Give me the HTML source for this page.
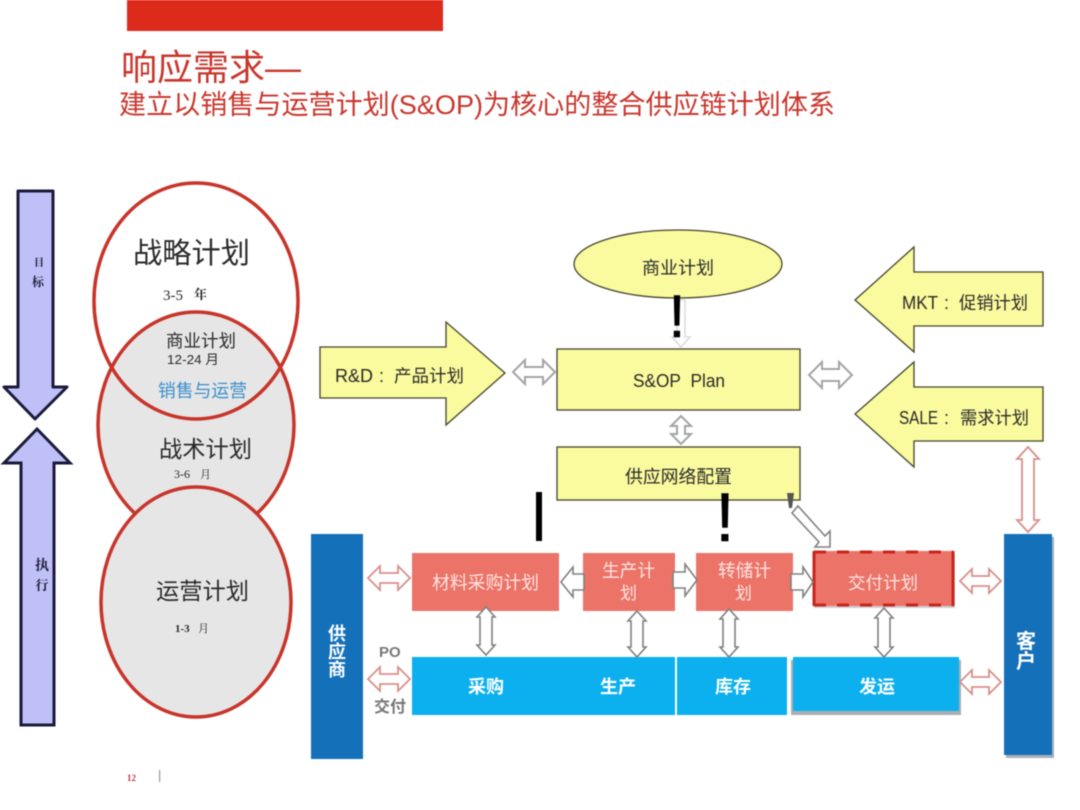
<!DOCTYPE html>
<html>
<head>
<meta charset="utf-8">
<style>
html,body{margin:0;padding:0;background:#fff;}
svg{display:block;filter:blur(0.4px);}
text{font-family:"Liberation Sans","Noto Sans CJK SC",sans-serif;fill:#2a2a2a;}
.y{fill:#fafa9e;stroke:#45452e;stroke-width:1.3;}
.g{fill:#fff;stroke:#a4a4a4;stroke-width:2;}
.d{fill:#fff;stroke:#808080;stroke-width:1.6;}
.r{fill:#fff;stroke:#d98f8a;stroke-width:1.8;}
.w{fill:#fbe6e2;}
.b{fill:#fff;font-weight:bold;}
.s{font-family:"Liberation Serif","Noto Serif CJK SC",serif;}
</style>
</head>
<body>
<svg width="1080" height="810" viewBox="0 0 1080 810" xmlns="http://www.w3.org/2000/svg">
<rect width="1080" height="810" fill="#fff"/>
<rect x="127" y="0" width="316" height="31" fill="#dc2a1b"/>
<text x="121" y="80" font-size="36" textLength="180" lengthAdjust="spacingAndGlyphs" style="fill:#c8362c">响应需求—</text>
<text x="119" y="114" font-size="27" textLength="716" lengthAdjust="spacingAndGlyphs" style="fill:#c8362c">建立以销售与运营计划(S&amp;OP)为核心的整合供应链计划体系</text>

<!-- left arrows -->
<polygon points="18,191 53,191 53,387 67,387 35,419 4,387 18,387" fill="#c0c0f8" stroke="#1a1a3a" stroke-width="3" stroke-linejoin="round"/>
<polygon points="37,429 70,463 54,463 54,725 21,725 21,463 4,463" fill="#c0c0f8" stroke="#1a1a3a" stroke-width="3" stroke-linejoin="miter"/>
<text class="s" x="39" y="266" font-size="10" font-weight="bold" text-anchor="middle" style="fill:#1a1a3a">目</text>
<text class="s" x="38" y="286" font-size="12" font-weight="bold" text-anchor="middle" style="fill:#1a1a3a">标</text>
<text class="s" x="42" y="570" font-size="14" font-weight="bold" text-anchor="middle" style="fill:#1a1a3a">执</text>
<text class="s" x="42" y="590" font-size="13" font-weight="bold" text-anchor="middle" style="fill:#1a1a3a">行</text>

<!-- ellipses -->
<ellipse cx="196" cy="301" rx="102" ry="118" fill="#fff"/>
<ellipse cx="196" cy="425" rx="98" ry="113" fill="#e6e6e6" stroke="#c8342a" stroke-width="3.5"/>
<ellipse cx="196" cy="301" rx="102" ry="118" fill="none" stroke="#c8342a" stroke-width="3.5"/>
<ellipse cx="196" cy="602" rx="95" ry="115" fill="#e6e6e6" stroke="#c8342a" stroke-width="3.5"/>

<text x="133" y="263" font-size="29" textLength="117" lengthAdjust="spacingAndGlyphs">战略计划</text>
<text class="s" x="163" y="300" font-size="15">3-5</text>
<text class="s" x="194" y="299" font-size="13" font-weight="bold">年</text>
<text x="166" y="347" font-size="17.5" textLength="70" lengthAdjust="spacingAndGlyphs">商业计划</text>
<text x="167" y="364" font-size="13" textLength="52" lengthAdjust="spacingAndGlyphs">12-24 月</text>
<text x="158" y="397" font-size="18" textLength="89" lengthAdjust="spacingAndGlyphs" style="fill:#3b8ecb">销售与运营</text>
<text x="159" y="457" font-size="23" textLength="93" lengthAdjust="spacingAndGlyphs">战术计划</text>
<text class="s" x="174" y="478" font-size="12">3-6</text>
<text class="s" x="200" y="478" font-size="11">月</text>
<text x="156" y="599" font-size="23" textLength="93" lengthAdjust="spacingAndGlyphs">运营计划</text>
<text class="s" x="175" y="632" font-size="11" font-weight="bold">1-3</text>
<text class="s" x="198" y="632" font-size="11">月</text>

<text class="s" x="127" y="781" font-size="9" font-weight="bold" style="fill:#b8384a">12</text>
<rect x="159" y="770" width="1.2" height="12" fill="#999"/>

<!-- yellow -->
<polygon class="y" points="320,347 446,347 446,322 505,373 446,425 446,398 320,398"/>
<ellipse class="y" cx="678" cy="264" rx="104" ry="34"/>
<rect class="y" x="557" y="349" width="243" height="61"/>
<rect class="y" x="557" y="447" width="243" height="53"/>
<polygon class="y" points="855,300 914,247 914,272 1043,272 1043,326 914,326 914,352"/>
<polygon class="y" points="855,414 914,362 914,387 1043,387 1043,441 914,441 914,467"/>

<text x="335" y="382" font-size="18" textLength="38" lengthAdjust="spacingAndGlyphs">R&amp;D</text>
<text x="379" y="382" font-size="18">:</text>
<text x="394" y="382" font-size="17.5" textLength="70" lengthAdjust="spacingAndGlyphs">产品计划</text>
<text x="642" y="274" font-size="17.5" textLength="72" lengthAdjust="spacingAndGlyphs">商业计划</text>
<text x="633" y="387" font-size="18" textLength="92" lengthAdjust="spacingAndGlyphs">S&amp;OP&#160;&#160;Plan</text>
<text x="625" y="483" font-size="18" textLength="107" lengthAdjust="spacingAndGlyphs">供应网络配置</text>
<text x="902" y="309" font-size="18" textLength="36" lengthAdjust="spacingAndGlyphs">MKT</text>
<text x="944" y="309" font-size="18">:</text>
<text x="959" y="309" font-size="17.5" textLength="69" lengthAdjust="spacingAndGlyphs">促销计划</text>
<text x="899" y="424" font-size="18" textLength="39" lengthAdjust="spacingAndGlyphs">SALE</text>
<text x="944" y="424" font-size="18">:</text>
<text x="960" y="424" font-size="17.5" textLength="69" lengthAdjust="spacingAndGlyphs">需求计划</text>

<!-- grey arrows upper -->
<polygon points="681,347 690,337 685,337 685,300 677,300 677,337 672,337" fill="#fff" stroke="#ddd" stroke-width="1.6"/>
<polygon class="g" points="513,372 525,360 525,367 543,367 543,360 555,372 543,384 543,377 525,377 525,384"/>
<polygon class="g" points="809,375 822,362 822,369 839,369 839,362 852,375 839,388 839,381 822,381 822,388"/>
<polygon class="g" points="681,416 691,426 685,426 685,434 691,434 681,444 671,434 677,434 677,426 671,426"/>

<!-- black marks -->
<text x="677" y="337" font-size="60" text-anchor="middle" stroke="#000" stroke-width="0.6" style="fill:#000">!</text>
<rect x="536" y="492" width="6" height="49" fill="#000"/>
<text x="725" y="541" font-size="69" text-anchor="middle" stroke="#000" stroke-width="0.6" style="fill:#000">!</text>
<polygon points="787,493 794,493 792,508 789,508" fill="#555"/>

<polygon class="d" points="830,547 815,547 819,542 792,513 798,506 825,536 830,531"/>

<!-- blue blocks -->
<rect x="311" y="534" width="52" height="225" fill="#1570ba"/>
<rect x="1006" y="537" width="48" height="221" fill="#a9b0b8"/>
<rect x="1004" y="534" width="48" height="221" fill="#1570ba"/>
<rect x="412" y="657" width="263" height="58" fill="#0cb0ee"/>
<rect x="677" y="657" width="110" height="58" fill="#0cb0ee"/>
<rect x="791" y="660" width="170" height="55" fill="#aaaeb2"/>
<rect x="793" y="657" width="166" height="54" fill="#0cb0ee"/>

<text class="b" x="337" y="640" font-size="18" text-anchor="middle">供</text>
<text class="b" x="337" y="658" font-size="18" text-anchor="middle">应</text>
<text class="b" x="337" y="676" font-size="18" text-anchor="middle">商</text>
<text class="b" x="1026" y="648" font-size="20" text-anchor="middle">客</text>
<text class="b" x="1026" y="668" font-size="20" text-anchor="middle">户</text>
<text class="b" x="468" y="693" font-size="18">采购</text>
<text class="b" x="600" y="693" font-size="18">生产</text>
<text class="b" x="715" y="693" font-size="18">库存</text>
<text class="b" x="859" y="693" font-size="18">发运</text>
<text x="379" y="657" font-size="15" font-weight="bold" style="fill:#777">PO</text>
<text x="374" y="712" font-size="16" font-weight="bold" style="fill:#777">交付</text>

<!-- red boxes -->
<rect x="412" y="553" width="147" height="58" fill="#ec7368"/>
<rect x="583" y="553" width="92" height="58" fill="#ec7368"/>
<rect x="696" y="553" width="97" height="58" fill="#ec7368"/>
<rect x="814" y="554" width="141" height="54" fill="#bbb" opacity="0.7"/>
<rect x="813" y="551" width="140" height="55" fill="#ec7368"/>
<line x1="814" y1="552" x2="953" y2="552" stroke="#c8261c" stroke-width="3" stroke-dasharray="12 11"/>
<line x1="814" y1="605" x2="953" y2="605" stroke="#c8261c" stroke-width="3" stroke-dasharray="12 11"/>
<line x1="814" y1="551" x2="814" y2="606" stroke="#c8261c" stroke-width="3"/>
<line x1="953" y1="551" x2="953" y2="606" stroke="#c8261c" stroke-width="3"/>

<text class="w" x="432" y="589" font-size="18" textLength="107" lengthAdjust="spacingAndGlyphs">材料采购计划</text>
<text class="w" x="602" y="577" font-size="18" textLength="53" lengthAdjust="spacingAndGlyphs">生产计</text>
<text class="w" x="620" y="599" font-size="17">划</text>
<text class="w" x="718" y="577" font-size="18" textLength="53" lengthAdjust="spacingAndGlyphs">转储计</text>
<text class="w" x="735" y="599" font-size="17">划</text>
<text class="w" x="848" y="589" font-size="17.5" textLength="70" lengthAdjust="spacingAndGlyphs">交付计划</text>

<!-- horizontal flow arrows -->
<polygon class="d" points="561,582 573,567 573,574 584,574 584,590 573,590 573,597"/>
<polygon class="d" points="673,572 685,572 685,564 697,580 685,596 685,588 673,588"/>
<polygon class="d" points="791,574 803,574 803,567 813,582 803,597 803,590 791,590"/>

<!-- pink arrows -->
<polygon class="r" points="368,578 380,566 380,573 398,573 398,566 410,578 398,590 398,583 380,583 380,590"/>
<polygon class="r" points="368,679 380,667 380,674 398,674 398,667 410,679 398,691 398,684 380,684 380,691"/>
<polygon class="r" points="960,581 972,569 972,576 989,576 989,569 1001,581 989,593 989,586 972,586 972,593"/>
<polygon class="r" points="960,682 972,670 972,677 989,677 989,670 1001,682 989,694 989,687 972,687 972,694"/>
<polygon class="r" points="1028,447 1039,459 1034,459 1034,520 1039,520 1028,532 1017,520 1022,520 1022,459 1017,459"/>

<!-- vertical grey arrows -->
<polygon class="d" points="486,607 495,617 492,617 492,645 495,645 486,655 477,645 480,645 480,617 477,617"/>
<polygon class="d" points="637,611 646,621 643,621 643,647 646,647 637,657 628,647 631,647 631,621 628,621"/>
<polygon class="d" points="729,609 738,619 735,619 735,647 738,647 729,657 720,647 723,647 723,619 720,619"/>
<polygon class="d" points="884,608 893,618 890,618 890,647 893,647 884,657 875,647 878,647 878,618 875,618"/>
</svg>
</body>
</html>
